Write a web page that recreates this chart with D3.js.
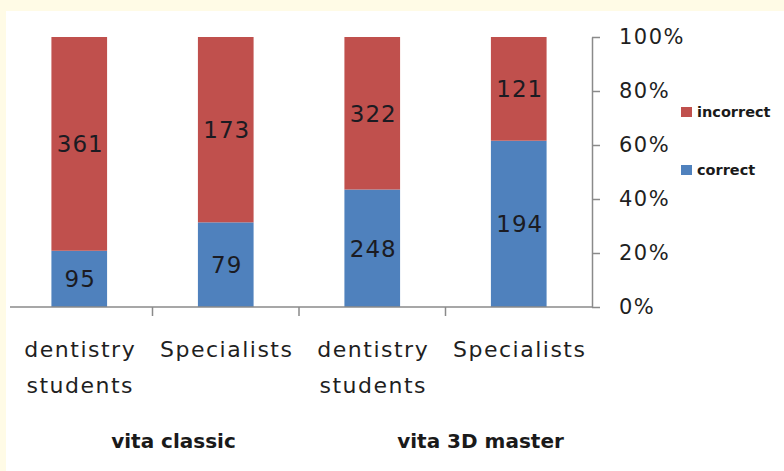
<!DOCTYPE html>
<html>
<head>
<meta charset="utf-8">
<script src="https://cdn.jsdelivr.net/npm/d3@7"></script>
<style>
  body { margin: 0; background: #fffbe6; }
  svg { display: block; }
</style>
</head>
<body>
<div id="chart"></div>
<script>
var width = 784,
    height = 471;

// data
var categories = ['dentistry students', 'Specialists', 'dentistry students', 'Specialists'];
var groups = ['vita classic', 'vita 3D master'];
var correct = [95, 79, 248, 194];
var incorrect = [361, 173, 322, 121];
var seriesNames = ['incorrect', 'correct'];
var yTicks = [0, 0.2, 0.4, 0.6, 0.8, 1];

var colors = { correct: '#4f81bd', incorrect: '#c0504d' };

var svg = d3.select('#chart')
    .append('svg')
    .attr('width', width)
    .attr('height', height);

// cream page + white panel
svg.append('rect').attr('width', width).attr('height', height).attr('fill', '#fffbe6');
svg.append('rect').attr('x', 6).attr('y', 11).attr('width', width - 6).attr('height', height - 11).attr('fill', '#ffffff');

var xScale = d3.scaleBand()
    .domain(d3.range(categories.length))
    .range([6, 592])
    .paddingInner(0.62)
    .paddingOuter(0.31);

var yScale = d3.scaleLinear().domain([0, 1]).range([307, 37]);

// stacked shares
var rows = categories.map(function (c, i) {
    var total = correct[i] + incorrect[i];
    return { i: i, correct: correct[i] / total, incorrect: incorrect[i] / total };
});
var stack = d3.stack().keys(['correct', 'incorrect']);
var layers = stack(rows);

svg.selectAll('g.layer')
    .data(layers)
    .enter()
    .append('g')
    .attr('class', 'layer')
    .attr('fill', function (d) { return colors[d.key]; })
    .selectAll('rect')
    .data(function (d) { return d; })
    .enter()
    .append('rect')
    .attr('x', function (d) { return xScale(d.data.i); })
    .attr('y', function (d) { return yScale(d[1]); })
    .attr('width', xScale.bandwidth())
    .attr('height', function (d) { return yScale(d[0]) - yScale(d[1]); });

// value labels
layers.forEach(function (layer) {
    var vals = layer.key === 'correct' ? correct : incorrect;
    svg.append('g')
        .selectAll('text')
        .data(layer)
        .enter()
        .append('text')
        .attr('x', function (d) { return xScale(d.data.i) + xScale.bandwidth() / 2 + 1; })
        .attr('y', function (d) { return (yScale(d[0]) + yScale(d[1])) / 2; })
        .attr('dy', '0.36em')
        .attr('text-anchor', 'middle')
        .style('font-family', 'DejaVu Sans')
        .style('font-size', '23px')
        .style('letter-spacing', '1px')
        .style('fill', '#1b1b22')
        .text(function (d, i) { return vals[i]; });
});

// x axis: line + ticks at category boundaries
var axisColor = '#8a8a8a';
var step = xScale.step();
var x0 = xScale.range()[0];
svg.append('line')
    .attr('x1', x0 + 4).attr('x2', xScale.range()[1])
    .attr('y1', yScale(0)).attr('y2', yScale(0))
    .attr('stroke', axisColor).attr('stroke-width', 1.5);
svg.selectAll('line.xtick')
    .data(d3.range(1, categories.length))
    .enter()
    .append('line')
    .attr('class', 'xtick')
    .attr('x1', function (d) { return x0 + d * step; })
    .attr('x2', function (d) { return x0 + d * step; })
    .attr('y1', yScale(0)).attr('y2', yScale(0) + 9)
    .attr('stroke', axisColor).attr('stroke-width', 1.5);

// y axis on right
var yAxis = d3.axisRight(yScale)
    .tickValues(yTicks)
    .tickFormat(d3.format('.0%'))
    .tickSizeInner(8)
    .tickSizeOuter(0)
    .tickPadding(19);
var yG = svg.append('g')
    .attr('transform', 'translate(' + xScale.range()[1] + ',0)')
    .call(yAxis);
yG.select('.domain').attr('stroke', axisColor).attr('stroke-width', 1.5);
yG.selectAll('.tick line').attr('stroke', axisColor).attr('stroke-width', 1.5);
yG.selectAll('.tick text')
    .style('font-family', 'DejaVu Sans')
    .style('font-size', '21px')
    .style('letter-spacing', '1.5px')
    .style('fill', '#1f1f1f');

// category labels
var catG = svg.append('g');
categories.forEach(function (c, i) {
    var cx = xScale(i) + xScale.bandwidth() / 2 + 1;
    var t = catG.append('text')
        .attr('y', 357)
        .attr('text-anchor', 'middle')
        .style('font-family', 'DejaVu Sans')
        .style('font-size', '22px')
        .style('letter-spacing', '1.5px')
        .style('fill', '#1f1f1f');
    var words = c === 'dentistry students' ? ['dentistry', 'students'] : [c];
    words.forEach(function (w, k) {
        t.append('tspan')
            .attr('x', cx)
            .attr('dy', k === 0 ? 0 : 36)
            .text(w);
    });
});

// group labels
var groupShift = [21, 35];
groups.forEach(function (g, k) {
    svg.append('text')
        .attr('x', x0 + (2 * k + 1) * step + groupShift[k])
        .attr('y', 448)
        .attr('text-anchor', 'middle')
        .style('font-family', 'DejaVu Sans')
        .style('font-weight', 'bold')
        .style('font-size', '20px')
        .style('fill', '#1a1a1a')
        .text(g);
});

// legend
var legend = svg.append('g').attr('transform', 'translate(681,107)');
seriesNames.forEach(function (s, k) {
    var row = legend.append('g').attr('transform', 'translate(0,' + k * 58 + ')');
    row.append('rect').attr('width', 11).attr('height', 10).attr('fill', colors[s]);
    row.append('text')
        .attr('x', 16)
        .attr('y', 10)
        .style('font-family', 'DejaVu Sans')
        .style('font-weight', 'bold')
        .style('font-size', '14.5px')
        .style('fill', '#1a1a1a')
        .text(s);
});
</script>
</body>
</html>
